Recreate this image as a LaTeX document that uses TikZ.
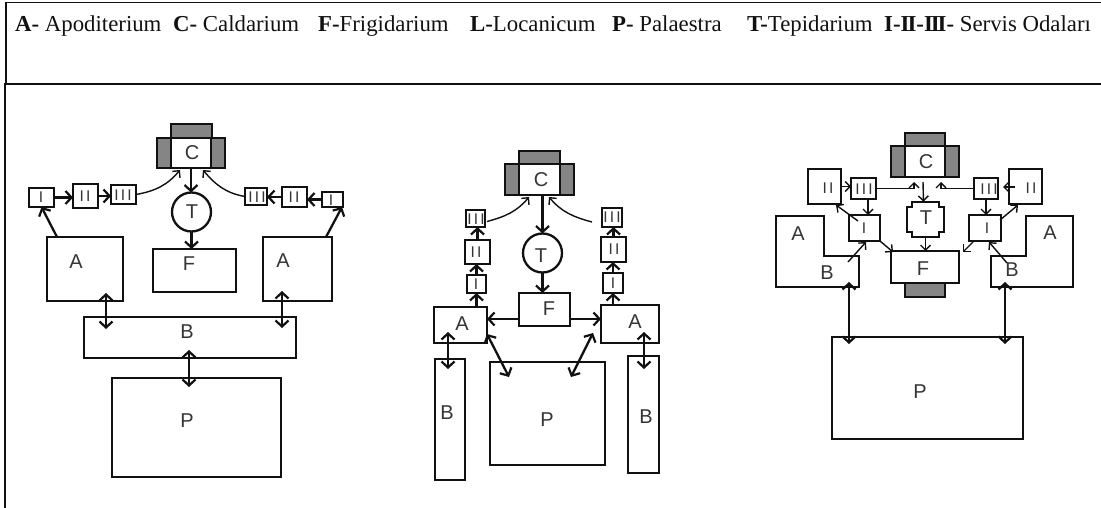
\documentclass[tikz,border=0pt]{standalone}
\usepackage{fontspec}
\setmainfont{Liberation Serif}
\newfontfamily\labfont{Liberation Sans}
\newfontfamily\romfont[LetterSpace=14]{Liberation Sans}
\usetikzlibrary{arrows.meta}
\definecolor{wallgrey}{HTML}{858585}
\definecolor{ink}{HTML}{111111}
\tikzset{
  x=1pt,y=-1pt,
  room/.style={draw=ink,line width=2.3pt,fill=white,inner sep=0pt,outer sep=0pt},
  wall/.style={room,fill=wallgrey},
  lab/.style={inner sep=0pt,font=\labfont\fontsize{20}{20}\selectfont,text=ink!85},
  rom/.style={inner sep=0pt,font=\romfont\fontsize{15.5}{16}\selectfont,text=ink!85},
  thick arrow/.style={draw=ink,line width=2.3pt,-{Straight Barb[length=6pt,width=13pt,line width=2.2pt]}},
  both arrow/.style={draw=ink,line width=2.3pt,{Straight Barb[length=6pt,width=13pt,line width=2.2pt]}-{Straight Barb[length=6pt,width=13pt,line width=2.2pt]}},
  thin arrow/.style={draw=ink,line width=1.4pt,-{Straight Barb[length=5pt,width=10pt,line width=1.4pt]}},
  frame/.style={draw=ink,line width=1.8pt},
}
\newcommand{\room}[6][room]{\node[#1,minimum width={(#5-#3)*1pt},minimum height={(#6-#4)*1pt}] (#2) at ({(#3+#5)/2},{(#4+#6)/2}) {};}
\newcommand{\lab}[4]{\node[lab] (#1) at (#2,#3) {#4};}
\newcommand{\rom}[4]{\node[rom] (#1) at (#2,#3) {#4};}
\newcommand{\hd}[2]{\makebox[#1pt][l]{#2}}
\begin{document}
\begin{tikzpicture}
\useasboundingbox (0,0) rectangle (1101,508);
% frame
\draw[frame] (5.7,83) -- (5.7,2.6) -- (1101,2.6);
\draw[frame,line width=2.3pt] (4.7,508) -- (4.7,84) -- (1101,84);
\node[anchor=base west,inner sep=0pt,font=\fontsize{22.8}{22.8}\selectfont,text=ink] (legend) at (15,32)
 {\hd{158}{\textbf{A-} Apoditerium}\hd{145}{\textbf{C-} Caldarium}\hd{152}{\textbf{F-}Frigidarium}\hd{142}{\textbf{L-}Locanicum}\hd{135}{\textbf{P-} Palaestra}\hd{137}{\textbf{T-}Tepidarium}\textbf{I-I\kern-2pt I-I\kern-2pt I\kern-2pt I-} Servis Odaları};

% ---------- Plan 1
\room[wall]{c1top}{171}{124}{212}{140}
\room[wall]{c1wl}{157}{138}{173}{168}
\room[wall]{c1wr}{209}{138}{225}{168}
\room{c1}{171}{138}{211}{168}
\lab{c1l}{192}{153}{C}
\room{i1}{29}{188}{54}{207}
\room{ii1}{73}{184}{98}{208}
\room{iii1}{111}{185}{136}{204}
\room{iii1r}{245}{188}{267}{205}
\room{ii1r}{282}{187}{307}{207}
\room{i1r}{322}{192}{343}{207}
\rom{i1t}{41}{197}{I}
\rom{ii1t}{85}{196}{II}
\rom{iii1t}{123}{195}{III}
\rom{iii1rt}{257}{197}{III}
\rom{ii1rt}{294}{197}{II}
\rom{i1rt}{331}{200}{I}
\node[room,circle,minimum size=39pt] (t1) at (191.5,212) {};
\lab{t1l}{192}{212}{T}
\room{f1}{153}{249}{236}{292}
\lab{f1l}{189}{264}{F}
\room{a1}{47}{237}{123}{301}
\lab{a1l}{76}{262}{A}
\room{a1r}{263}{237}{332}{301}
\lab{a1rl}{283}{261}{A}
\room{b1}{84}{317}{296}{358}
\lab{b1l}{187}{332}{B}
\room{p1}{112}{378}{281}{477}
\lab{p1l}{187}{421}{P}
\draw[thick arrow] ([xshift=-28pt]a1.north) -- (i1.south);
\draw[thick arrow] ([xshift=28.5pt]a1r.north) -- ([xshift=9.5pt]i1r.south);
\draw[thick arrow] (i1.east) -- (i1.east -| ii1.west);
\draw[thick arrow] (ii1.east) -- (ii1.east -| iii1.west);
\draw[thick arrow] (ii1r.west) -- (ii1r.west -| iii1r.east);
\draw[thick arrow] (i1r.west) -- (i1r.west -| ii1r.east);
\draw[thin arrow] (iii1.east) to[out=10,in=230] ([shift={(-11,2)}]c1.south);
\draw[thin arrow] (iii1r.west) to[out=170,in=-50] ([shift={(12,2)}]c1.south);
\draw[thick arrow] (c1.south) -- (c1.south |- t1.north);
\draw[thick arrow] (t1.south) -- (t1.south |- f1.north);
\draw[both arrow] ([shift={(21,-8)}]a1.south) -- ([shift={(-84,12)}]b1.north);
\draw[both arrow] ([shift={(-15.5,-10)}]a1r.south) -- ([shift={(92,11)}]b1.north);
\draw[both arrow] ([shift={(-1,-8)}]b1.south) -- ([shift={(-7.5,9)}]p1.north);

% ---------- Plan 2
\room[wall]{c2top}{519}{151}{560}{166}
\room[wall]{c2wl}{505}{164}{521}{195}
\room[wall]{c2wr}{558}{164}{574}{195}
\room{c2}{519}{164}{560}{195}
\lab{c2l}{541}{180}{C}
\room{iii2}{466}{210}{485}{227}
\room{ii2}{465}{240}{490}{264}
\room{i2}{467}{275}{486}{293}
\room{iii2r}{602}{208}{622}{227}
\room{ii2r}{601}{237}{626}{262}
\room{i2r}{603}{273}{623}{293}
\rom{iii2t}{476}{219}{III}
\rom{ii2t}{476}{252}{II}
\rom{i2t}{476}{284}{I}
\rom{iii2rt}{612}{217}{III}
\rom{ii2rt}{614}{249}{II}
\rom{i2rt}{613}{283}{I}
\node[room,circle,minimum size=39pt] (t2) at (542.5,253) {};
\lab{t2l}{541}{256}{T}
\room{f2}{519}{293}{570}{326}
\lab{f2l}{549}{309}{F}
\room{a2}{434}{307}{487}{343}
\lab{a2l}{462}{324}{A}
\room{a2r}{601}{305}{659}{343}
\lab{a2rl}{635}{322}{A}
\room{b2}{435}{359}{465}{480}
\lab{b2l}{447}{413}{B}
\room{b2r}{628}{356}{659}{473}
\lab{b2rl}{646}{417}{B}
\room{p2}{490}{362}{605}{465}
\lab{p2l}{547}{420}{P}
\draw[thick arrow] ([xshift=3pt]c2.south) -- (t2.north);
\draw[thick arrow] (t2.south) -- (t2.south |- f2.north);
\draw[thin arrow] ([shift={(2,3)}]iii2.east) to[out=15,in=230] ([shift={(-10.5,2)}]c2.south);
\draw[thin arrow] ([shift={(-10,4.5)}]iii2r.west) to[out=165,in=-50] ([shift={(9.5,2)}]c2.south);
\draw[thick arrow] (i2.south |- a2.north) -- (i2.south);
\draw[thick arrow] (i2.north) -- (i2.north |- ii2.south);
\draw[thick arrow] (ii2.north) -- (ii2.north |- iii2.south);
\draw[thick arrow] (i2r.south |- a2r.north) -- (i2r.south);
\draw[thick arrow] (i2r.north) -- (i2r.north |- ii2r.south);
\draw[thick arrow] (ii2r.north) -- (ii2r.north |- iii2r.south);
\draw[thick arrow] ([yshift=-9.5pt]f2.west) -- ([yshift=-9.5pt]f2.west -| a2.east);
\draw[thick arrow] ([yshift=-9.5pt]f2.east) -- ([yshift=-9.5pt]f2.east -| a2r.west);
\draw[both arrow] ([shift={(-12.5,-11)}]a2.south) -- ([shift={(-2,10)}]b2.north);
\draw[both arrow] ([shift={(14,-11)}]a2r.south) -- ([shift={(.5,13)}]b2r.north);
\draw[both arrow] ([shift={(0,9)}]a2.east) -- ([shift={(-38.5,15)}]p2.north);
\draw[both arrow] ([shift={(-8,9)}]a2r.west) -- ([shift={(23.5,15)}]p2.north);

% ---------- Plan 3
\room[wall]{c3top}{905}{133}{945}{148}
\room[wall]{c3wl}{891}{146}{907}{177}
\room[wall]{c3wr}{943}{146}{959}{177}
\room{c3}{905}{146}{945}{177}
\lab{c3l}{926}{162}{C}
\room{ii3}{808}{169}{841}{204}
\room{iii3}{851}{178}{876}{199}
\room{i3}{849}{215}{880}{241}
\room{iii3r}{974}{178}{998}{199}
\room{ii3r}{1009}{169}{1042}{204}
\room{i3r}{969}{215}{1001}{241}
\rom{ii3t}{828}{188}{II}
\rom{iii3t}{864}{189}{III}
\rom{i3t}{864}{228}{I}
\rom{iii3rt}{989}{189}{III}
\rom{ii3rt}{1031}{188}{II}
\rom{i3rt}{987}{228}{I}
\draw[room] (912,202) -- (939,202) -- (939,207) -- (944,207) -- (944,232) -- (939,232) -- (939,237) -- (912,237) -- (912,232) -- (907,232) -- (907,207) -- (912,207) -- cycle;
\node[inner sep=0pt,minimum width=37pt,minimum height=35pt] (t3) at (925.5,219.5) {};
\lab{t3l}{926}{218}{T}
\room[wall]{f3wall}{905}{281}{945}{297}
\room{f3}{891}{251}{959}{283}
\lab{f3l}{923}{269}{F}
\coordinate (ab3) at (859,287);
\coordinate (ab3r) at (991,287);
\draw[room] (776,216) -- (824,216) -- (824,256) -- (859,256) -- (ab3) -- (776,287) -- cycle;
\draw[room] (1073,216) -- (1026,216) -- (1026,256) -- (991,256) -- (ab3r) -- (1073,287) -- cycle;
\lab{a3l}{798}{234}{A}
\lab{b3l}{827}{273}{B}
\lab{a3rl}{1050}{233}{A}
\lab{b3rl}{1012}{270}{B}
\room{p3}{832}{337}{1023}{439}
\lab{p3l}{920}{392}{P}
\draw[thin arrow] (ii3.east) -- (ii3.east -| iii3.west);
\draw[thin arrow] (iii3.east) -| ([shift={(-11,5)}]c3.south);
\draw[thin arrow] (iii3r.west) -| ([shift={(16,5)}]c3.south);
\draw[thin arrow] ([xshift=4.5pt]iii3.south) -- ([xshift=3.5pt]i3.north);
\draw[thin arrow] (iii3r.south) -- (iii3r.south |- i3r.north);
\draw[thin arrow] ([shift={(-2,5)}]c3.south) -- ([xshift=-2pt]t3.north);
\draw[thin arrow] (t3.south) -- (t3.south |- f3.north);
\draw[thin arrow] ([shift={(9,-7)}]i3.west) -- ([shift={(11.5,1)}]ii3.south);
\draw[thin arrow] ([shift={(-1,-8)}]i3r.east) -- ([shift={(-7.5,1)}]ii3r.south);
\draw[thin arrow] ([shift={(6,.5)}]ii3r.west) -- ([shift={(5,-1.5)}]iii3r.east);
\draw[thin arrow] (i3.south east) -- ([shift={(2,1)}]f3.north west);
\draw[thin arrow] ([shift={(-12,1)}]i3r.south) -- ([shift={(4,1)}]f3.north east);
\draw[thin arrow] ([shift={(21,-11)}]b3l.center) -- ([shift={(1.5,1)}]i3.south);
\draw[thin arrow] ([shift={(-5,-7)}]b3rl.center) -- ([shift={(4,1)}]i3r.south);
\draw[both arrow] ([shift={(-10,-5)}]ab3) -- ([shift={(-78.5,7)}]p3.north);
\draw[both arrow] ([shift={(14,-5)}]ab3r) -- ([shift={(77.5,7)}]p3.north);
\end{tikzpicture}
\end{document}
